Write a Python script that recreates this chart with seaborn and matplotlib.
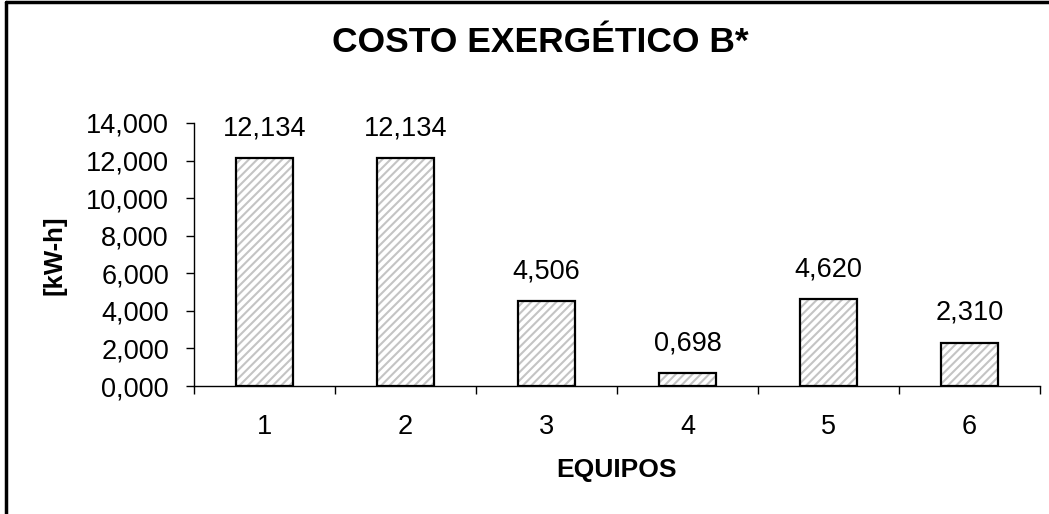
import matplotlib
matplotlib.use("Agg")
import matplotlib.pyplot as plt
from matplotlib.lines import Line2D
from matplotlib.ticker import FixedLocator, FuncFormatter
import seaborn as sns
import pandas as pd

# Exergetic cost per equipment unit
equipos = ["1", "2", "3", "4", "5", "6"]
costo = [12.134, 12.134, 4.506, 0.698, 4.620, 2.310]
y_ticks = [0, 2, 4, 6, 8, 10, 12, 14]

df = pd.DataFrame({"equipo": equipos, "costo": costo})

sns.set_theme(style="white")
plt.rcParams["font.family"] = ["Liberation Sans", "DejaVu Sans"]
plt.rcParams["hatch.linewidth"] = 1.5


def coma(v, pos=None):
    return f"{v:,.3f}".replace(".", ",")


fig = plt.figure(figsize=(10.49, 5.14), dpi=100)
fig.patch.set_facecolor("white")
ax = fig.add_axes([194 / 1049, 1 - 386 / 514, (1040 - 194) / 1049, (386 - 123) / 514])

# hatched fill
sns.barplot(data=df, x="equipo", y="costo", color="white", width=0.41,
            edgecolor="#c4c4c4", linewidth=0, hatch="////",
            errorbar=None, ax=ax, zorder=2)
# black outline on top
sns.barplot(data=df, x="equipo", y="costo", fill=False, width=0.41,
            color="black", linewidth=1.6, errorbar=None, ax=ax, zorder=3)
for p in ax.patches[:len(equipos)]:
    p.set_hatch("////")
    p.set_edgecolor("#c4c4c4")

ax.bar_label(ax.containers[1], labels=[coma(v) for v in costo],
             padding=12, fontsize=19.5, color="black")

ax.set_ylim(0, 14)
ax.set_xlim(-0.5, len(equipos) - 0.5)
ax.yaxis.set_major_locator(FixedLocator(y_ticks))
ax.yaxis.set_major_formatter(FuncFormatter(coma))

# ticks on category boundaries, labels centred under each bar
ax.xaxis.set_major_locator(FixedLocator([i - 0.5 for i in range(len(equipos) + 1)]))
ax.xaxis.set_major_formatter(FuncFormatter(lambda v, p: ""))
ax.xaxis.set_minor_locator(FixedLocator(list(range(len(equipos)))))
ax.set_xticks(range(len(equipos)), equipos, minor=True)
ax.tick_params(axis="x", which="major", length=6, width=1, color="black",
               direction="out", bottom=True)
ax.tick_params(axis="x", which="minor", length=0, pad=20, labelsize=19.5,
               labelcolor="black", bottom=True)
ax.tick_params(axis="y", length=6, width=1, color="black", direction="out",
               pad=12, labelsize=19.5, labelcolor="black", left=True)

ax.set_xlabel("")
ax.set_ylabel("")
for side in ["top", "right"]:
    ax.spines[side].set_visible(False)
for side in ["left", "bottom"]:
    ax.spines[side].set_color("black")
    ax.spines[side].set_linewidth(1)
ax.set_facecolor("white")

fig.text(540 / 1049, 1 - 42 / 514, "COSTO EXERGÉTICO B*", ha="center", va="center",
         fontsize=25.5, fontweight="bold", color="black")
fig.text(54 / 1049, 1 - 255 / 514, "[kW-h]", ha="center", va="center",
         rotation=90, fontsize=18.5, fontweight="bold", color="black")
fig.text(617 / 1049, 1 - 470 / 514, "EQUIPOS", ha="center", va="center",
         fontsize=19, fontweight="bold", color="black")

# chart-area frame
fig.add_artist(Line2D([6 / 1049, 6 / 1049], [0, 1 - 2 / 514],
                      transform=fig.transFigure, color="black", linewidth=2.5))
fig.add_artist(Line2D([6 / 1049, 1], [1 - 2 / 514, 1 - 2 / 514],
                      transform=fig.transFigure, color="black", linewidth=2.5))

fig.savefig("out.png", dpi=100, facecolor="white")
